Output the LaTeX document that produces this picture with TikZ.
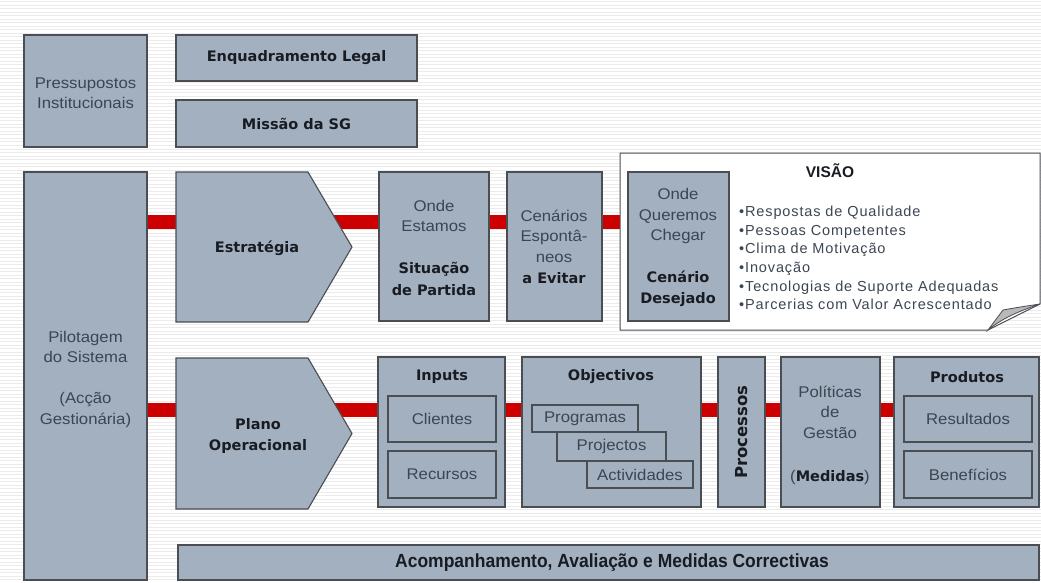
\documentclass[tikz,border=0pt]{standalone}
\usepackage{fontspec}
\setmainfont{Liberation Sans}
\newfontfamily\regf[FakeStretch=1.08]{Liberation Sans}
\newfontfamily\vbf{DejaVu Sans}
\newfontfamily\lbf{Liberation Sans}
\newfontfamily\narrowf[FakeStretch=0.92]{Liberation Sans}
\newfontfamily\listf[LetterSpace=6]{Liberation Sans}
\usetikzlibrary{calc}
\pgfdeclarelayer{back}
\pgfdeclarelayer{bars}
\pgfsetlayers{back,bars,main}
\definecolor{boxfill}{HTML}{A3B0C0}
\definecolor{boxline}{HTML}{4A4D52}
\definecolor{txt}{HTML}{3C4652}
\definecolor{btxt}{HTML}{181C22}
\definecolor{redbar}{HTML}{CC0000}
\definecolor{foldgray}{HTML}{B8B8B8}
\tikzset{
  box/.style={draw=boxline, fill=boxfill, line width=1.1pt, inner sep=0pt, outer sep=0pt, anchor=north west},
  ghost/.style={inner sep=0pt, outer sep=0pt, anchor=north west},
  reg/.style={text=txt, font=\regf\fontsize{15.5}{20.5}\selectfont, align=center, inner sep=0pt},
  bld/.style={text=btxt, font=\vbf\bfseries\fontsize{14.5}{21.5}\selectfont, align=center, inner sep=0pt},
  conn/.style={draw=redbar, line width=14pt},
  stripe/.style={draw=black!8, line width=1pt},
}
\begin{document}
\begin{tikzpicture}[x=1pt,y=-1pt]
\useasboundingbox (0,0) rectangle (1041,583);
\begin{pgfonlayer}{back}
  \fill[white] (0,0) rectangle (1041,583);
  \foreach \yy in {2,5.5,...,583} \draw[stripe] (0,\yy) -- (1041,\yy);
\end{pgfonlayer}

\coordinate (rowA) at (0,222);
\coordinate (rowB) at (0,410);

% top left
\node[box, minimum width=123, minimum height=112] (pres) at (24,35) {};
\node[reg] (prest) at (85.5,93) {Pressupostos\\Institucionais};
\node[box, bld, minimum width=241, minimum height=46] (enq) at (176,35) {Enquadramento Legal};
\node[box, bld, minimum width=241, minimum height=47] (mis) at (176,100) {Missão da SG};

% pilotagem
\node[box, minimum width=123, minimum height=408] (pil) at (24,172) {};
\node[reg] (pilt) at (85.5,379) {Pilotagem\\do Sistema\\[20.5pt](Acção\\Gestionária)};

% Estrategia
\node[ghost, minimum width=176, minimum height=150] (estr) at (176,172) {};
\draw[draw=boxline, fill=boxfill, line width=1.1pt] (estr.north west) -- ([xshift=-44]estr.north east) -- (estr.east) -- ([xshift=-44]estr.south east) -- (estr.south west) -- cycle;
\node[bld] (estrt) at (257,248) {Estratégia};

% Onde estamos
\node[box, minimum width=110, minimum height=149] (onde) at (379,172) {};
\node[reg] (ondet) at (434,216) {Onde\\Estamos};
\node[bld] (ondeb) at (434,279) {Situação\\de Partida};

% Cenarios
\node[box, minimum width=95, minimum height=149] (cen) at (507,172) {};
\node[reg] (cent) at (554,236) {Cenários\\Espontâ-\\neos};
\node[bld] (cenb) at (554,278) {a Evitar};

% Visao callout
\node[ghost, minimum width=420, minimum height=177] (visao) at (620,153) {};
\draw[draw=boxline, fill=white, line width=1pt] (visao.north west) -- (visao.north east) -- (1040,304) -- (988,330) -- (visao.south west) -- cycle;
\draw[draw=boxline, fill=foldgray, line width=0.8pt] (988,330) -- (1003,310) .. controls (1020,307) .. (1040,304) .. controls (1016,312) and (1000,320) .. (988,330) -- cycle;
\node[text=btxt, font=\lbf\bfseries\fontsize{15.5}{18}\selectfont, inner sep=0pt] (visaot) at (830,171) {VISÃO};
\node[text=txt, font=\listf\fontsize{14.5}{18.6}\selectfont, align=left, inner sep=0pt, anchor=north west] (lista) at (739,206)
  {•Respostas de Qualidade\\•Pessoas Competentes\\•Clima de Motivação\\•Inovação\\•Tecnologias de Suporte Adequadas\\•Parcerias com Valor Acrescentado};

% Onde queremos
\node[box, minimum width=101, minimum height=149] (quer) at (628,172) {};
\node[reg] (quert) at (678,216) {Onde\\Queremos\\Chegar};
\node[bld] (querb) at (678,289) {Cenário\\Desejado};

% Plano operacional
\node[ghost, minimum width=176, minimum height=151] (plano) at (176,358) {};
\draw[draw=boxline, fill=boxfill, line width=1.1pt] (plano.north west) -- ([xshift=-44]plano.north east) -- (plano.east) -- ([xshift=-44]plano.south east) -- (plano.south west) -- cycle;
\node[bld] (planot) at (258,436) {Plano\\Operacional};

% Inputs
\node[box, minimum width=127, minimum height=150] (inp) at (378,357) {};
\node[bld] (inpt) at (442,377) {Inputs};
\node[box, reg, minimum width=108, minimum height=46] (cli) at (388,396) {Clientes};
\node[box, reg, minimum width=108, minimum height=47] (rec) at (388,451) {Recursos};

% Objectivos
\node[box, minimum width=179, minimum height=150] (obj) at (522,357) {};
\node[bld] (objt) at (611,377) {Objectivos};
\node[box, reg, minimum width=106, minimum height=27] (prog) at (532,405) {Programas};
\node[box, reg, minimum width=109, minimum height=29] (proj) at (557,432) {Projectos};
\node[box, reg, minimum width=106, minimum height=27] (act) at (587,461) {Actividades};

% Processos
\node[box, minimum width=47, minimum height=150] (proc) at (718,357) {};
\node[bld, font=\vbf\bfseries\fontsize{16.5}{18}\selectfont, rotate=90] (proct) at (proc.center) {Processos};

% Politicas
\node[box, minimum width=99, minimum height=150] (pol) at (781,357) {};
\node[reg] (polt) at (830,412) {Políticas\\de\\Gestão};
\node[reg] (polb) at (830,477) {(\textcolor{btxt}{\vbf\bfseries\fontsize{14.5}{18}\selectfont Medidas})};

% Produtos
\node[box, minimum width=145, minimum height=150] (prod) at (894,357) {};
\node[bld] (prodt) at (967,377) {Produtos};
\node[box, reg, minimum width=128, minimum height=46] (res) at (904,396) {Resultados};
\node[box, reg, minimum width=128, minimum height=47] (ben) at (904,451) {Benefícios};

% Bottom bar
\node[box, minimum width=861, minimum height=35] (acomp) at (178,545) {};
\node[text=btxt, font=\narrowf\bfseries\fontsize{19}{22}\selectfont, inner sep=0pt] (acompt) at (612,563) {Acompanhamento, Avaliação e Medidas Correctivas};

% red connectors
\begin{pgfonlayer}{bars}
  \draw[conn] (pil.east |- rowA) -- (estr.west |- rowA);
  \draw[conn] (estr.center |- rowA) -- (onde.west |- rowA);
  \draw[conn] (onde.east |- rowA) -- (cen.west |- rowA);
  \draw[conn] (cen.east |- rowA) -- (quer.west |- rowA);
  \draw[conn] (pil.east |- rowB) -- (plano.west |- rowB);
  \draw[conn] (plano.center |- rowB) -- (inp.west |- rowB);
  \draw[conn] (inp.east |- rowB) -- (obj.west |- rowB);
  \draw[conn] (obj.east |- rowB) -- (proc.west |- rowB);
  \draw[conn] (proc.east |- rowB) -- (pol.west |- rowB);
  \draw[conn] (pol.east |- rowB) -- (prod.west |- rowB);
\end{pgfonlayer}
\end{tikzpicture}
\end{document}
